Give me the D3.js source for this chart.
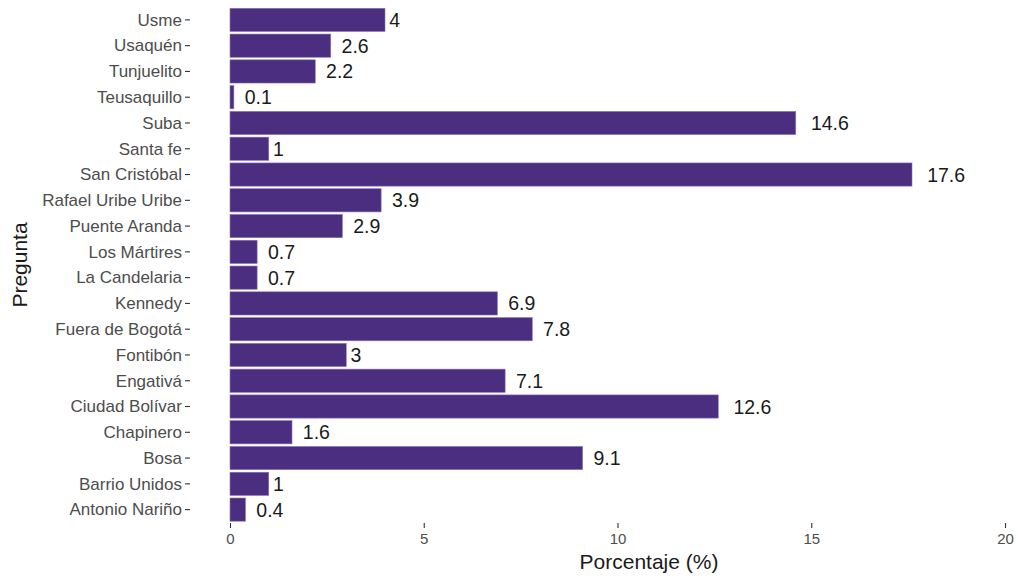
<!DOCTYPE html>
<html>
<head>
<meta charset="utf-8">
<script src="https://cdn.jsdelivr.net/npm/d3@7"></script>
<style>
  body { margin: 0; background: #fff; }
  text { font-family: "Liberation Sans", Arial, sans-serif; }
</style>
</head>
<body>
<script>
// categories, top to bottom as drawn
const categories = [
  'Usme', 'Usaquén', 'Tunjuelito', 'Teusaquillo', 'Suba', 'Santa fe',
  'San Cristóbal', 'Rafael Uribe Uribe', 'Puente Aranda', 'Los Mártires',
  'La Candelaria', 'Kennedy', 'Fuera de Bogotá', 'Fontibón', 'Engativá',
  'Ciudad Bolívar', 'Chapinero', 'Bosa', 'Barrio Unidos', 'Antonio Nariño'
];
const values = [4, 2.6, 2.2, 0.1, 14.6, 1, 17.6, 3.9, 2.9, 0.7, 0.7, 6.9, 7.8, 3, 7.1, 12.6, 1.6, 9.1, 1, 0.4];
const xTicks = [0, 5, 10, 15, 20];

const width = 1018;
const height = 579;

const data = categories.map((c, i) => ({ name: c, value: values[i] }));

const svg = d3.select('body').append('svg')
  .attr('width', width)
  .attr('height', height);

const x = d3.scaleLinear()
  .domain([0, 20])
  .range([230, 1005]);

const y = d3.scaleBand()
  .domain(categories)
  .range([7, 522.5])
  .paddingInner(0.1)
  .paddingOuter(0.05);

// bars
svg.selectAll('.bar')
  .data(data)
  .enter().append('rect')
    .attr('class', 'bar')
    .attr('x', x(0))
    .attr('y', d => y(d.name))
    .attr('width', d => x(d.value) - x(0))
    .attr('height', y.bandwidth())
    .attr('fill', '#4b2e80')
    .attr('stroke', '#8a74b8')
    .attr('stroke-width', 0.6);

// value labels, nudged right by part of their own width
const labels = svg.selectAll('.label')
  .data(data)
  .enter().append('text')
    .attr('class', 'label')
    .attr('y', d => y(d.name) + y.bandwidth() / 2)
    .attr('dy', '0.36em')
    .attr('fill', '#1a1a1a')
    .style('font-size', '19.5px')
    .text(d => d.value);

labels.attr('x', function (d) {
  const w = this.getComputedTextLength();
  return x(d.value) + 0.4 * w;
});

// y axis
const yAxis = svg.append('g')
  .attr('transform', `translate(${x(0) - 40},0)`)
  .call(d3.axisLeft(y).tickSize(5).tickPadding(3));
yAxis.select('.domain').remove();
yAxis.selectAll('.tick line').attr('stroke', '#333').attr('stroke-width', 1.1);
yAxis.selectAll('.tick text')
  .attr('fill', '#4d4d4d')
  .style('font-size', '17px')
  .attr('dy', '0.34em');

// x axis
const xAxis = svg.append('g')
  .attr('transform', 'translate(0,523)')
  .call(d3.axisBottom(x).tickValues(xTicks).tickSize(5).tickPadding(5));
xAxis.select('.domain').remove();
xAxis.selectAll('.tick line').attr('stroke', '#333').attr('stroke-width', 1.1);
xAxis.selectAll('.tick text')
  .attr('fill', '#4d4d4d')
  .style('font-size', '15px');

// axis titles
svg.append('text')
  .attr('x', 649)
  .attr('y', 569)
  .attr('text-anchor', 'middle')
  .attr('fill', '#1a1a1a')
  .style('font-size', '21px')
  .text('Porcentaje (%)');

svg.append('text')
  .attr('transform', 'translate(27,265) rotate(-90)')
  .attr('text-anchor', 'middle')
  .attr('fill', '#1a1a1a')
  .style('font-size', '21px')
  .text('Pregunta');
</script>
</body>
</html>
